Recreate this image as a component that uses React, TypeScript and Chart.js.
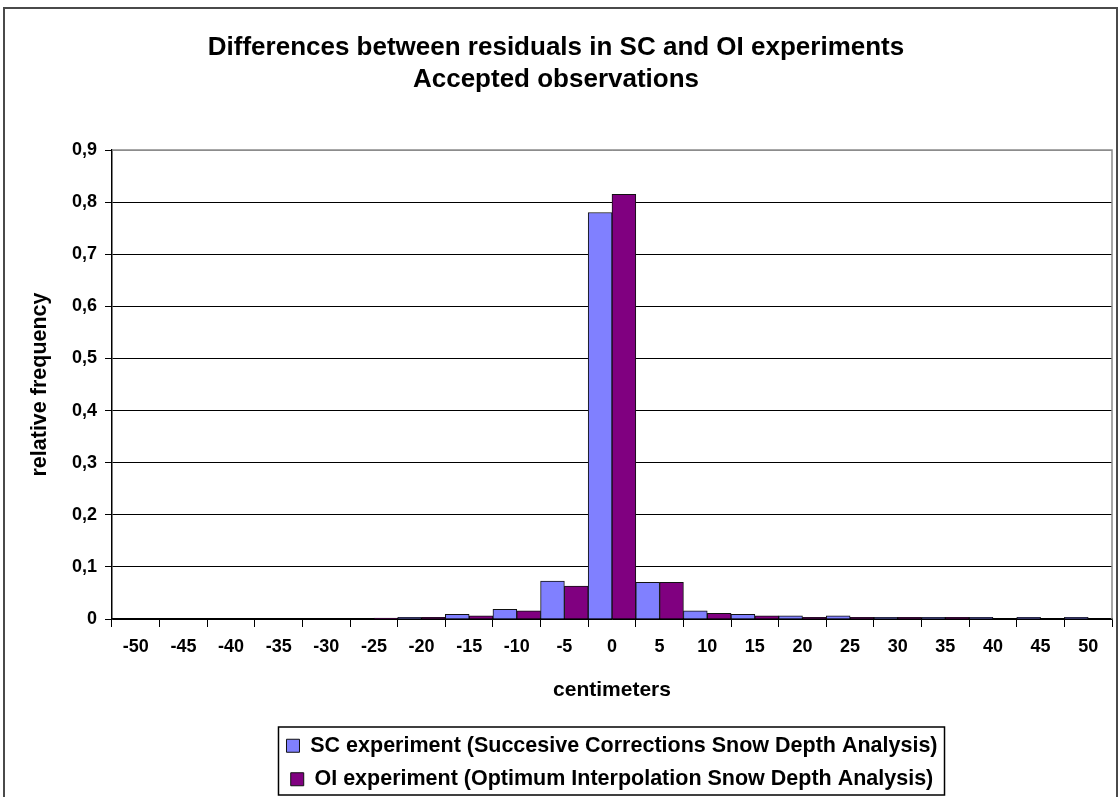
import React, { useEffect, useRef } from "react";
import { Chart, registerables } from "chart.js";

Chart.register(...registerables);

const categories = ["-50", "-45", "-40", "-35", "-30", "-25", "-20", "-15", "-10", "-5", "0", "5", "10", "15", "20", "25", "30", "35", "40", "45", "50"];
const scValues = [0, 0, 0, 0, 0, 0, 0.003, 0.009, 0.0185, 0.073, 0.78, 0.0705, 0.0155, 0.009, 0.006, 0.006, 0.003, 0.003, 0.003, 0.003, 0.003];
const oiValues = [0, 0, 0, 0, 0, 0.002, 0.003, 0.006, 0.0155, 0.063, 0.815, 0.0705, 0.011, 0.006, 0.003, 0.003, 0.003, 0.003, 0, 0, 0];
const seriesNames = [
  "SC experiment (Succesive Corrections Snow Depth Analysis)",
  "OI experiment (Optimum Interpolation Snow Depth Analysis)",
];
const titleLines = ["Differences between residuals in SC and OI experiments", "Accepted observations"];
const yTitle = "relative frequency";
const xTitle = "centimeters";

const FONT = "'Liberation Sans', Arial, sans-serif";

const framePlugin = {
  id: "frame",
  beforeDraw(chart: any) {
    const { ctx } = chart;
    ctx.save();
    ctx.fillStyle = "#fff";
    ctx.fillRect(0, 0, chart.width, chart.height);
    ctx.restore();
  },
  afterDraw(chart: any) {
    const { ctx, chartArea: a } = chart;
    ctx.save();
    // outer chart border
    ctx.strokeStyle = "#4a4a4a";
    ctx.lineWidth = 2;
    ctx.beginPath();
    ctx.moveTo(4, chart.height + 5);
    ctx.lineTo(4, 8);
    ctx.lineTo(chart.width - 3, 8);
    ctx.lineTo(chart.width - 3, chart.height + 5);
    ctx.stroke();
    // plot area border (top / right)
    ctx.strokeStyle = "#8c8c8c";
    ctx.lineWidth = 1.5;
    ctx.beginPath();
    ctx.moveTo(a.left, a.top);
    ctx.lineTo(a.right, a.top);
    ctx.lineTo(a.right, a.bottom);
    ctx.stroke();
    // legend frame
    const lg = chart.legend;
    const hb = lg && lg.legendHitBoxes;
    if (hb && hb.length) {
      const l = Math.min(...hb.map((h: any) => h.left)) - 8;
      const r = Math.max(...hb.map((h: any) => h.left + h.width)) + 7;
      const t = lg.top + 4;
      const b = Math.min(lg.bottom - 1, chart.height - 2);
      ctx.strokeStyle = "#000";
      ctx.lineWidth = 1.5;
      ctx.strokeRect(l, t, r - l, b - t);
    }
    ctx.restore();
  },
};

export default function App() {
  const ref = useRef<HTMLCanvasElement | null>(null);

  useEffect(() => {
    document.body.style.margin = "0";
    const canvas = ref.current;
    if (!canvas) return;
    const chart = new Chart(canvas, {
      type: "bar",
      data: {
        labels: categories,
        datasets: [
          {
            label: seriesNames[0],
            data: scValues,
            backgroundColor: "#8080FF",
            borderColor: "#111",
            borderWidth: 1,
            barPercentage: 1,
            categoryPercentage: 1,
          },
          {
            label: seriesNames[1],
            data: oiValues,
            backgroundColor: "#800080",
            borderColor: "#111",
            borderWidth: 1,
            barPercentage: 1,
            categoryPercentage: 1,
          },
        ],
      },
      options: {
        responsive: false,
        animation: false,
        devicePixelRatio: 1,
        layout: { padding: { left: 0, right: 8, top: 0, bottom: -3 } },
        plugins: {
          title: {
            display: true,
            text: titleLines,
            color: "#000",
            font: { family: FONT, size: 26, weight: "bold", lineHeight: 32 / 26 },
            padding: { top: 32, bottom: 54 },
          },
          legend: {
            display: true,
            position: "bottom",
            fullSize: false,
            labels: {
              color: "#000",
              font: { family: FONT, size: 21.5, weight: "bold" },
              boxWidth: 13,
              boxHeight: 13,
              padding: 12,
            },
          },
          tooltip: { enabled: false },
        },
        scales: {
          x: {
            ticks: {
              color: "#000",
              font: { family: FONT, size: 18, weight: "bold" },
              padding: 9,
              maxRotation: 0,
              autoSkip: false,
            },
            grid: {
              offset: true,
              drawOnChartArea: false,
              drawTicks: true,
              tickLength: 8,
              color: "#000",
            },
            border: { color: "#000", width: 1.5 },
            title: {
              display: true,
              text: xTitle,
              color: "#000",
              font: { family: FONT, size: 21, weight: "bold" },
              padding: { top: 4, bottom: 20 },
            },
            afterFit: (s: any) => {
              s.height = 104;
            },
          },
          y: {
            min: 0,
            max: 0.9,
            ticks: {
              stepSize: 0.1,
              color: "#000",
              font: { family: FONT, size: 18, weight: "bold" },
              padding: 8,
              callback: (v: any) => {
                const n = Number(v);
                if (Math.abs(n) < 1e-9) return "0";
                return n.toFixed(1).replace(".", ",");
              },
            },
            grid: {
              color: (c: any) => (c.tick && Math.abs(c.tick.value - 0.9) < 1e-6 ? "#8c8c8c" : "#000"),
              tickColor: "#000",
              tickLength: 7,
              lineWidth: 1,
            },
            border: { color: "#000", width: 1.5 },
            title: {
              display: true,
              text: yTitle,
              color: "#000",
              font: { family: FONT, size: 21.5, weight: "bold" },
              padding: { top: 27, bottom: 0 },
            },
            afterFit: (s: any) => {
              s.width = 112;
            },
          },
        },
      },
      plugins: [framePlugin],
    });
    return () => chart.destroy();
  }, []);

  return (
    <div style={{ width: 1120, height: 797, overflow: "hidden" }}>
      <canvas ref={ref} width={1120} height={797} style={{ display: "block" }} />
    </div>
  );
}
